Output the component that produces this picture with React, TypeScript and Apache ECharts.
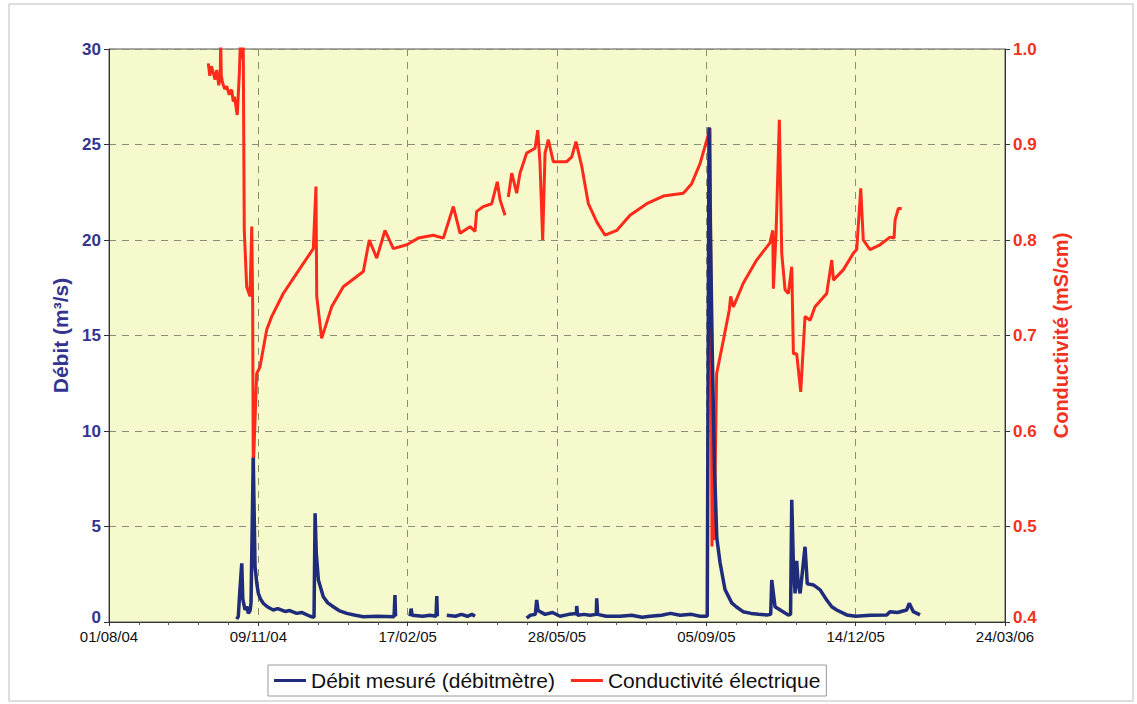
import React, { useEffect, useRef } from "react";
import * as echarts from "echarts";

// Day offsets are counted from 01/08/2004
const START_UTC = Date.UTC(2004, 7, 1);
const X_MIN = 0;
const X_MAX = 600;
const X_STEP = 100;

const seriesNames = ["Débit mesuré (débitmètre)", "Conductivité électrique"];

// [day since 01/08/04, discharge m3/s] ; null = gap in record
const debit: [number, number | null][] = [
  [85.5, 0.15], [86.6, 0.3], [87.5, 1.5], [88.9, 3.07], [89.6, 1.2], [91.1, 0.63], [92.3, 0.8], [93.3, 0.45],
  [94.5, 0.6], [95.1, 1.0], [96.6, 8.6], [97.8, 2.9], [99, 2.0], [100.0, 1.5], [101.5, 1.2], [103.3, 0.98],
  [106, 0.8], [110.0, 0.63], [113, 0.7], [117.9, 0.55], [121, 0.6], [125.7, 0.45], [129, 0.5], [134.6, 0.3],
  [137.3, 0.25], [138.0, 5.69], [138.8, 3.6], [140.2, 2.2], [143.5, 1.32], [146.5, 1.0], [150.2, 0.8], [154, 0.6],
  [159.2, 0.45], [165, 0.35], [170.3, 0.28], [180, 0.3], [190.9, 0.28], [191.5, 1.41], [191.9, 0.3], [192.5, null],
  [201.6, 0.3], [202.3, 0.7], [203, 0.35], [210, 0.3], [215, 0.35], [219.0, 0.3], [219.5, 1.36], [219.9, 0.3], [221, null],
  [226.2, 0.35], [232, 0.3], [236, 0.4], [240, 0.3], [243, 0.4], [245.1, 0.3], [246, null],
  [279.7, 0.2], [282, 0.35], [285.5, 0.4], [286.4, 1.15], [287.3, 0.6], [292, 0.4], [297, 0.5], [302, 0.3],
  [308, 0.4], [313.0, 0.45], [313.2, 0.84], [313.8, 0.35], [318, 0.4], [322.1, 0.35], [326.3, 0.4], [326.6, 1.24],
  [327.2, 0.4], [333, 0.3], [342.2, 0.3], [350, 0.35], [357, 0.25], [362.3, 0.3], [370, 0.35], [376, 0.45],
  [382.4, 0.35], [390, 0.4], [395.8, 0.3], [400.6, 0.3], [401.8, 25.9], [402.8, 20], [404, 14], [405.5, 8],
  [407, 4.4], [409.2, 3.1], [412.5, 1.7], [417.0, 1.0], [420, 0.8], [424.6, 0.54], [430, 0.45], [435, 0.4],
  [440.5, 0.37], [443.1, 0.4], [443.8, 2.2], [446.0, 0.8], [450, 0.6], [454.9, 0.37], [456.4, 0.4], [457.2, 6.4],
  [458.3, 3.0], [459.4, 1.5], [460.5, 3.2], [461.5, 2.0], [462.8, 1.5], [466.1, 3.94], [467.6, 2.0], [471.7, 1.94],
  [476.2, 1.68], [480.6, 1.15], [484, 0.8], [487.3, 0.63], [494.0, 0.37], [500, 0.3], [510, 0.35], [520.8, 0.37],
  [523.0, 0.54], [528, 0.5], [534.2, 0.63], [535.9, 0.98], [538.6, 0.54], [543.1, 0.37],
];

// [day since 01/08/04, conductivity mS/cm] ; null = gap in record
const conductivite: [number, number | null][] = [
  [66.5, 0.985], [67.5, 0.972], [68.5, 0.982], [69.9, 0.975], [71, 0.968], [72.2, 0.978], [73.5, 0.962],
  [74.5, 0.97], [74.8, 1.01], [75.2, 0.972], [76, 0.965], [77.5, 0.958], [78.8, 0.961], [80.5, 0.952],
  [81.3, 0.956], [82.2, 0.957], [83.2, 0.945], [84, 0.95], [85.9, 0.931], [87.3, 0.975], [88.0, 1.01],
  [88.6, 0.99], [89.4, 1.01], [89.9, 1.0], [90.6, 0.81], [92.2, 0.751], [94.4, 0.741], [95.6, 0.814],
  [96.2, 0.734], [96.6, 0.559], [98.9, 0.66], [101.1, 0.667], [105.6, 0.706], [109.0, 0.72], [116.7, 0.744],
  [125.7, 0.765], [136.8, 0.791], [138.6, 0.856], [139.1, 0.741], [142.4, 0.697], [149.1, 0.73], [156.9, 0.751],
  [170.3, 0.767], [174.3, 0.8], [179.3, 0.781], [184.8, 0.81], [190.4, 0.791], [199.4, 0.795], [207.1, 0.802],
  [217.2, 0.805], [223.9, 0.802], [230.6, 0.835], [235.1, 0.807], [241.8, 0.814], [245.1, 0.809], [246.2, 0.83],
  [250.7, 0.835], [256.3, 0.838], [260.0, 0.861], [261.9, 0.842], [265.2, 0.826], [266.3, null],
  [267.4, 0.845], [269.7, 0.87], [273.0, 0.849], [275.2, 0.87], [279.7, 0.891], [285.3, 0.896], [287.1, 0.915],
  [288.6, 0.881], [290.4, 0.8], [292.0, 0.891], [294.2, 0.905], [297.5, 0.882], [306.5, 0.882], [309.9, 0.887],
  [312.7, 0.903], [316.6, 0.877], [321.0, 0.838], [326.6, 0.819], [332.2, 0.805], [340.0, 0.81], [348.9, 0.826],
  [360.1, 0.838], [371.2, 0.846], [384.6, 0.849], [390.2, 0.859], [395.8, 0.88], [399.1, 0.898], [402.5, 0.917],
  [403.2, 0.737], [403.8, 0.479], [404.5, 0.612], [405.2, 0.486], [406.9, 0.66], [411.4, 0.695], [415.4, 0.727],
  [416.3, 0.741], [418.1, 0.73], [424.8, 0.755], [433.7, 0.779], [442.6, 0.797], [444.5, 0.81], [444.9, 0.749],
  [446.7, 0.807], [448.9, 0.926], [450.5, 0.786], [452.7, 0.748], [454.9, 0.744], [457.2, 0.772], [458.3, 0.681],
  [460.5, 0.681], [463.2, 0.641], [466.1, 0.72], [469.5, 0.716], [472.8, 0.73], [480.6, 0.744], [484.0, 0.779],
  [485.1, 0.758], [491.8, 0.769], [498.4, 0.786], [500.7, 0.79], [503.4, 0.854], [505.1, 0.8], [509.6, 0.79],
  [516.3, 0.795], [523.0, 0.803], [525.7, 0.802], [526.4, 0.821], [528.6, 0.833], [530.8, 0.833],
];

const LEFT_MIN = 0, LEFT_MAX = 30, LEFT_STEP = 5;
const RIGHT_MIN = 0.4, RIGHT_MAX = 1.0, RIGHT_STEP = 0.1;

const FONT = "'Liberation Sans', Arial, sans-serif";
const NAVY = "#1f2b7b";
const RED = "#ff2a1a";
const LEFT_LABEL = "#34348f";
const RIGHT_LABEL = "#f0321e";

function dayLabel(v: number): string {
  const d = new Date(START_UTC + Math.round(v) * 86400000);
  const p = (n: number) => String(n).padStart(2, "0");
  return `${p(d.getUTCDate())}/${p(d.getUTCMonth() + 1)}/${String(d.getUTCFullYear()).slice(2)}`;
}

const toData = (arr: [number, number | null][]) => arr.map(([d, v]) => [d, v === null ? "-" : v]);

const yLabelBase = { fontFamily: FONT, fontSize: 17, fontWeight: "bold" as const };

export default function App() {
  const ref = useRef<HTMLDivElement>(null);
  useEffect(() => {
    if (!ref.current) return;
    const chart = echarts.init(ref.current, undefined, { renderer: "svg" });
    chart.setOption({
      animation: false,
      backgroundColor: "#ffffff",
      textStyle: { fontFamily: FONT },
      graphic: [
        {
          type: "rect",
          silent: true,
          z: -10,
          shape: { x: 9, y: 4, width: 1124, height: 697 },
          style: { fill: "none", stroke: "#bdbdbd", lineWidth: 1 },
        },
      ],
      grid: {
        left: 109,
        right: 132,
        top: 49,
        bottom: 82,
        show: true,
        backgroundColor: "#f6f9cb",
        borderColor: "#555555",
        borderWidth: 1,
      },
      legend: {
        left: 268,
        top: 665,
        data: seriesNames,
        icon: "rect",
        itemWidth: 32,
        itemHeight: 3,
        itemGap: 16,
        padding: [5, 6, 5, 6],
        borderColor: "#9a9a9a",
        borderWidth: 1,
        textStyle: { fontFamily: FONT, fontSize: 21, color: "#111" },
      },
      xAxis: {
        type: "value",
        min: X_MIN,
        max: X_MAX,
        interval: X_STEP,
        axisLine: { show: true, lineStyle: { color: "#333", width: 1 } },
        axisTick: { show: true, length: 4, lineStyle: { color: "#333" } },
        minorTick: { show: true, splitNumber: 5, length: 3, lineStyle: { color: "#555" } },
        axisLabel: {
          formatter: dayLabel,
          fontFamily: FONT,
          fontSize: 15,
          lineHeight: 15,
          color: "#111",
          margin: 7,
        },
        splitLine: { show: true, lineStyle: { color: "#8c8c78", type: [7, 6], width: 1 } },
      },
      yAxis: [
        {
          type: "value",
          position: "left",
          min: LEFT_MIN,
          max: LEFT_MAX,
          interval: LEFT_STEP,
          name: "Débit (m³/s)",
          nameLocation: "middle",
          nameRotate: 90,
          nameGap: 37,
          nameTextStyle: { fontFamily: FONT, fontSize: 21, fontWeight: "bold", color: LEFT_LABEL },
          axisLine: { show: true, lineStyle: { color: "#333" } },
          axisTick: { show: true, length: 5, lineStyle: { color: "#333" } },
          axisLabel: {
            ...yLabelBase,
            color: LEFT_LABEL,
            margin: 8,
            formatter: (v: number) => (v === LEFT_MIN ? `{lo|${v}}` : `${v}`),
            rich: { lo: { ...yLabelBase, color: LEFT_LABEL, padding: [0, 0, 9, 0] } },
          },
          splitLine: { show: true, lineStyle: { color: "#8c8c78", type: [7, 6], width: 1 } },
        },
        {
          type: "value",
          position: "right",
          min: RIGHT_MIN,
          max: RIGHT_MAX,
          interval: RIGHT_STEP,
          name: "Conductivité (mS/cm)",
          nameLocation: "middle",
          nameRotate: 90,
          nameGap: 46,
          nameTextStyle: { fontFamily: FONT, fontSize: 20, fontWeight: "bold", color: RIGHT_LABEL },
          axisLine: { show: true, lineStyle: { color: "#333" } },
          axisTick: { show: true, length: 5, lineStyle: { color: "#333" } },
          axisLabel: {
            ...yLabelBase,
            color: RIGHT_LABEL,
            margin: 8,
            formatter: (v: number) =>
              Math.abs(v - RIGHT_MIN) < 1e-6 ? `{lo|${v.toFixed(1)}}` : v.toFixed(1),
            rich: { lo: { ...yLabelBase, color: RIGHT_LABEL, padding: [0, 0, 9, 0] } },
          },
          splitLine: { show: false },
        },
      ],
      series: [
        {
          name: seriesNames[0],
          type: "line",
          yAxisIndex: 0,
          z: 4,
          showSymbol: false,
          symbol: "none",
          connectNulls: false,
          lineStyle: { color: NAVY, width: 3.5 },
          itemStyle: { color: NAVY },
          data: toData(debit),
        },
        {
          name: seriesNames[1],
          type: "line",
          yAxisIndex: 1,
          z: 3,
          showSymbol: false,
          symbol: "none",
          connectNulls: false,
          lineStyle: { color: RED, width: 3 },
          itemStyle: { color: RED },
          data: toData(conductivite),
        },
      ],
    });
    return () => chart.dispose();
  }, []);
  return (
    <div
      ref={ref}
      style={{ position: "fixed", left: 0, top: 0, width: 1137, height: 704, background: "#fff" }}
    />
  );
}
